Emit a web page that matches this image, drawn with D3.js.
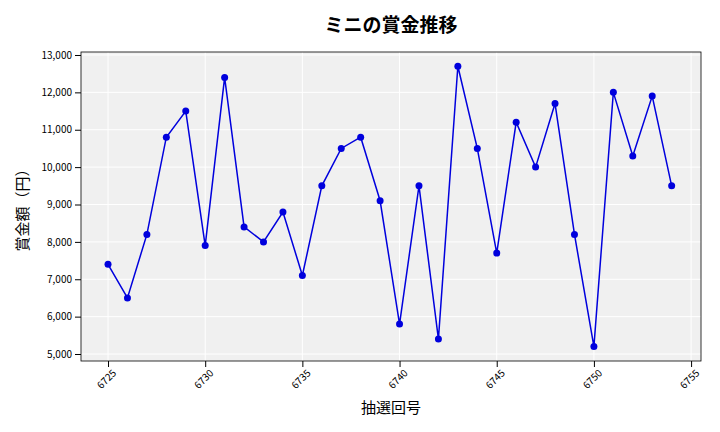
<!DOCTYPE html>
<html><head><meta charset="utf-8">
<script src="https://cdn.jsdelivr.net/npm/d3@7"></script>
<style>body{margin:0;background:#fff}text{font-family:"Noto Sans CJK JP","Noto Sans",sans-serif}</style>
</head><body><svg id="chart" width="720" height="432"></svg>
<script>
var draws = [6725,6726,6727,6728,6729,6730,6731,6732,6733,6734,6735,6736,6737,6738,6739,6740,6741,6742,6743,6744,6745,6746,6747,6748,6749,6750,6751,6752,6753,6754];
var prizes = [7400,6500,8200,10800,11500,7900,12400,8400,8000,8800,7100,9500,10500,10800,9100,5800,9500,5400,12700,10500,7700,11200,10000,11700,8200,5200,12000,10300,11900,9500];
var xTicks = [6725,6730,6735,6740,6745,6750,6755];
var yTicks = [5000,6000,7000,8000,9000,10000,11000,12000,13000];

var svg = d3.select('#chart'),
    L = 81, R = 701, T = 52, B = 361;

var x = d3.scaleLinear().domain([6723.61, 6755.51]).range([L, R]),
    y = d3.scaleLinear().domain([4813, 13080]).range([B, T]);

svg.append('rect').attr('x', L).attr('y', T).attr('width', R - L).attr('height', B - T).attr('fill', '#f0f0f0');

// grid
svg.selectAll('.gx').data(xTicks).enter().append('line')
    .attr('x1', d => x(d)).attr('x2', d => x(d)).attr('y1', T).attr('y2', B)
    .attr('stroke', '#fff').attr('stroke-width', 1);
svg.selectAll('.gy').data(yTicks).enter().append('line')
    .attr('x1', L).attr('x2', R).attr('y1', d => y(d)).attr('y2', d => y(d))
    .attr('stroke', '#fff').attr('stroke-width', 1);

svg.append('rect').attr('x', L).attr('y', T).attr('width', R - L).attr('height', B - T)
    .attr('fill', 'none').attr('stroke', '#000').attr('stroke-width', 0.8);

var xa = svg.append('g').attr('transform', 'translate(0,' + B + ')')
    .call(d3.axisBottom(x).tickValues(xTicks).tickFormat(d3.format('d')).tickSizeOuter(0));
xa.select('.domain').remove();
xa.selectAll('text').attr('font-size', 10).attr('text-anchor', 'end')
    .attr('transform', 'rotate(-45)').attr('dx', '-0.3em').attr('dy', '0.6em');

var ya = svg.append('g').attr('transform', 'translate(' + L + ',0)')
    .call(d3.axisLeft(y).tickValues(yTicks).tickFormat(d3.format(',')).tickSizeOuter(0));
ya.select('.domain').remove();
ya.selectAll('text').attr('font-size', 10);

var line = d3.line().x((d, i) => x(draws[i])).y(d => y(d));
svg.append('path').datum(prizes).attr('d', line)
    .attr('fill', 'none').attr('stroke', '#0000dd').attr('stroke-width', 1.5);
svg.selectAll('.pt').data(prizes).enter().append('circle')
    .attr('cx', (d, i) => x(draws[i])).attr('cy', d => y(d)).attr('r', 3.5).attr('fill', '#0000dd');

svg.append('text').attr('x', 391).attr('y', 32).attr('text-anchor', 'middle')
    .attr('font-size', 19).attr('font-weight', 'bold').text('ミニの賞金推移');
svg.append('text').attr('x', 391).attr('y', 413).attr('text-anchor', 'middle')
    .attr('font-size', 15).text('抽選回号');
svg.append('text').attr('transform', 'translate(28,' + ((T + B) / 2) + ') rotate(-90)')
    .attr('text-anchor', 'middle').attr('font-size', 15).text('賞金額（円）');
</script></body></html>
